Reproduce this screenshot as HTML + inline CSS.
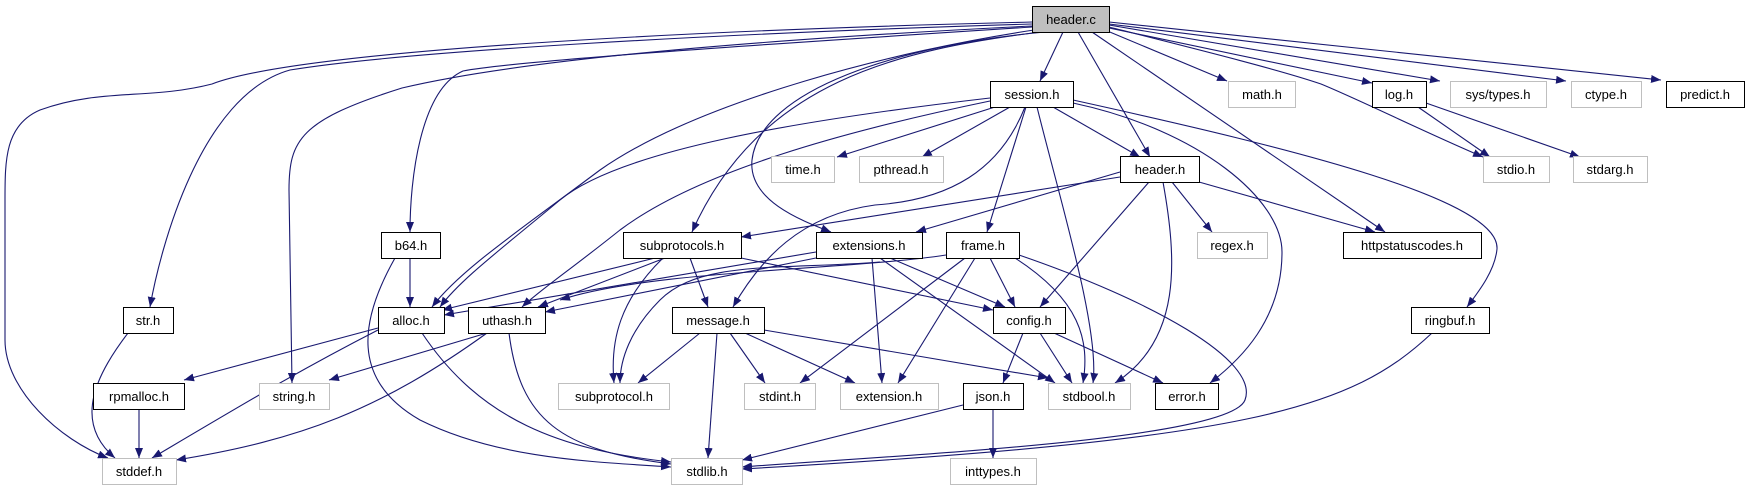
<!DOCTYPE html>
<html><head><meta charset="utf-8"><style>
html,body{margin:0;padding:0;background:#fff;}
svg{display:block;}
text{font-family:"Liberation Sans",sans-serif;font-size:13px;text-anchor:middle;fill:#000;}
</style></head><body>
<svg width="1750" height="485" viewBox="0 0 1750 485" xmlns="http://www.w3.org/2000/svg">
<defs><marker id="a" markerUnits="userSpaceOnUse" markerWidth="11" markerHeight="8" refX="10" refY="4" orient="auto"><path d="M0,0 L10,4 L0,8 z" fill="#191970"/></marker></defs>
<g fill="none" stroke="#191970" stroke-width="1.1" marker-end="url(#a)">
<!-- header.c -->
<path d="M1032,22 C700,30 300,50 212,84 C150,100 100,88 40,110 C5,125 5,160 5,200 L5,340 C5,390 60,440 108,458"/>
<path d="M1032,24 C700,34 400,52 290,70 C200,95 160,250 150,307"/>
<path d="M1032,26 C750,40 520,60 402,88 C300,120 289,140 289,190 L292,383"/>
<path d="M1032,27 C800,42 520,60 463,71 C420,90 410,180 410,232"/>
<path d="M1034,30 C900,50 700,100 600,170 C520,230 460,270 432,307"/>
<path d="M1040,32 C900,50 760,80 692,232"/>
<path d="M1045,32 C900,45 760,90 752,160 C748,200 800,220 831,232"/>
<path d="M1063,32 L1040,81"/>
<path d="M1078,32 L1150,157"/>
<path d="M1092,32 L1385,232"/>
<path d="M1105,30 L1227,81"/>
<path d="M1109,28 L1372,83"/>
<path d="M1109,27 C1200,50 1280,70 1321,84 C1360,100 1420,130 1483,157"/>
<path d="M1109,25 L1440,81"/>
<path d="M1109,24 L1566,81"/>
<path d="M1109,22 L1661,80"/>
<!-- session.h -->
<path d="M990,98 C800,120 620,150 560,200 C500,250 460,280 440,307"/>
<path d="M990,101 C850,130 700,170 620,230 C570,270 540,290 522,307"/>
<path d="M995,107 L837,157"/>
<path d="M1010,107 L922,157"/>
<path d="M1025,107 C1000,170 950,200 875,205 C800,215 760,260 733,307"/>
<path d="M1026,107 L987,232"/>
<path d="M1053,107 L1140,157"/>
<path d="M1037,107 C1060,200 1100,330 1093,383"/>
<path d="M1073,103 C1200,130 1282,200 1282,252 C1282,320 1240,360 1210,383"/>
<path d="M1073,100 C1300,150 1500,200 1497,249 C1495,270 1480,290 1467,307"/>
<!-- header.h -->
<path d="M1120,177 L741,237"/>
<path d="M1120,172 L916,232"/>
<path d="M1149,182 L1040,307"/>
<path d="M1163,182 C1177,260 1182,340 1115,383"/>
<path d="M1172,182 L1212,232"/>
<path d="M1199,182 L1375,232"/>
<!-- subprotocols.h -->
<path d="M655,258 L442,310"/>
<path d="M665,258 L538,307"/>
<path d="M663,258 C620,300 610,340 614,383"/>
<path d="M690,258 L708,307"/>
<path d="M741,258 L993,310"/>
<!-- extensions.h -->
<path d="M816,252 L444,315"/>
<path d="M816,258 L545,312"/>
<path d="M880,262 C780,270 700,260 660,300 C630,330 620,360 620,383"/>
<path d="M890,258 L1005,307"/>
<path d="M872,258 L882,383"/>
<path d="M880,258 L1055,383"/>
<!-- frame.h -->
<path d="M946,255 C850,270 650,270 560,300"/>
<path d="M965,258 L800,383"/>
<path d="M975,258 L898,383"/>
<path d="M990,258 L1015,307"/>
<path d="M1015,258 C1080,300 1090,340 1083,383"/>
<path d="M1019,255 C1150,300 1260,360 1245,400 C1230,440 900,455 742,467"/>
<!-- b64 -->
<path d="M410,258 L410,307"/>
<path d="M395,258 C360,320 350,380 420,420 C500,460 600,462 671,467"/>
<!-- str -->
<path d="M128,333 C100,370 70,420 115,458"/>
<!-- alloc -->
<path d="M378,328 L184,380"/>
<path d="M378,330 C300,370 250,400 152,458"/>
<path d="M422,333 C480,420 560,450 671,462"/>
<!-- uthash -->
<path d="M487,333 L329,380"/>
<path d="M487,333 C380,410 300,440 176,460"/>
<path d="M509,333 C520,420 560,450 671,464"/>
<!-- message -->
<path d="M700,333 L638,383"/>
<path d="M730,333 L765,383"/>
<path d="M745,333 L855,383"/>
<path d="M717,333 L708,458"/>
<path d="M764,330 L1048,378"/>
<!-- config -->
<path d="M1023,333 L1003,383"/>
<path d="M1040,333 L1072,383"/>
<path d="M1054,333 L1163,383"/>
<!-- json -->
<path d="M993,409 L993,458"/>
<path d="M963,405 L742,460"/>
<!-- rpmalloc -->
<path d="M139,409 L139,458"/>
<!-- ringbuf -->
<path d="M1432,333 C1350,410 1250,440 742,469"/>
<!-- log -->
<path d="M1418,107 L1490,157"/>
<path d="M1426,103 L1580,157"/>
</g>
<g stroke-width="1">
<rect x="1032.5" y="6.5" width="77" height="26" fill="#bfbfbf" stroke="#000"/><text x="1071" y="24">header.c</text>
<g fill="#fff" stroke="#000">
<rect x="990.5" y="81.5" width="83" height="26"/>
<rect x="1372.5" y="81.5" width="54" height="26"/>
<rect x="1666.5" y="81.5" width="78" height="26"/>
<rect x="1120.5" y="156.5" width="79" height="26"/>
<rect x="381.5" y="232.5" width="59" height="26"/>
<rect x="623.5" y="232.5" width="118" height="26"/>
<rect x="816.5" y="232.5" width="106" height="26"/>
<rect x="946.5" y="232.5" width="73" height="26"/>
<rect x="1343.5" y="232.5" width="138" height="26"/>
<rect x="123.5" y="307.5" width="50" height="26"/>
<rect x="378.5" y="307.5" width="66" height="26"/>
<rect x="468.5" y="307.5" width="77" height="26"/>
<rect x="672.5" y="307.5" width="92" height="26"/>
<rect x="993.5" y="307.5" width="72" height="26"/>
<rect x="1411.5" y="307.5" width="78" height="26"/>
<rect x="93.5" y="383.5" width="91" height="26"/>
<rect x="963.5" y="383.5" width="60" height="26"/>
<rect x="1155.5" y="383.5" width="63" height="26"/>
</g>
<g fill="#fff" stroke="#bfbfbf">
<rect x="1228.5" y="81.5" width="67" height="26"/>
<rect x="1450.5" y="81.5" width="96" height="26"/>
<rect x="1571.5" y="81.5" width="70" height="26"/>
<rect x="771.5" y="156.5" width="63" height="26"/>
<rect x="859.5" y="156.5" width="84" height="26"/>
<rect x="1483.5" y="156.5" width="66" height="26"/>
<rect x="1573.5" y="156.5" width="74" height="26"/>
<rect x="1197.5" y="232.5" width="70" height="26"/>
<rect x="259.5" y="383.5" width="70" height="26"/>
<rect x="558.5" y="383.5" width="111" height="26"/>
<rect x="744.5" y="383.5" width="71" height="26"/>
<rect x="840.5" y="383.5" width="98" height="26"/>
<rect x="1048.5" y="383.5" width="82" height="26"/>
<rect x="102.5" y="458.5" width="74" height="26"/>
<rect x="671.5" y="458.5" width="71" height="26"/>
<rect x="950.5" y="458.5" width="86" height="26"/>
</g>
</g>
<text x="1032" y="99">session.h</text>
<text x="1399" y="99">log.h</text>
<text x="1705" y="99">predict.h</text>
<text x="1160" y="174">header.h</text>
<text x="411" y="250">b64.h</text>
<text x="682" y="250">subprotocols.h</text>
<text x="869" y="250">extensions.h</text>
<text x="983" y="250">frame.h</text>
<text x="1412" y="250">httpstatuscodes.h</text>
<text x="148" y="325">str.h</text>
<text x="411" y="325">alloc.h</text>
<text x="507" y="325">uthash.h</text>
<text x="718" y="325">message.h</text>
<text x="1029" y="325">config.h</text>
<text x="1450" y="325">ringbuf.h</text>
<text x="139" y="401">rpmalloc.h</text>
<text x="993" y="401">json.h</text>
<text x="1187" y="401">error.h</text>
<g style="fill:#000">
<text x="1262" y="99">math.h</text>
<text x="1498" y="99">sys/types.h</text>
<text x="1606" y="99">ctype.h</text>
<text x="803" y="174">time.h</text>
<text x="901" y="174">pthread.h</text>
<text x="1516" y="174">stdio.h</text>
<text x="1610" y="174">stdarg.h</text>
<text x="1232" y="250">regex.h</text>
<text x="294" y="401">string.h</text>
<text x="614" y="401">subprotocol.h</text>
<text x="780" y="401">stdint.h</text>
<text x="889" y="401">extension.h</text>
<text x="1089" y="401">stdbool.h</text>
<text x="139" y="476">stddef.h</text>
<text x="707" y="476">stdlib.h</text>
<text x="993" y="476">inttypes.h</text>
</g>
</svg>
</body></html>
